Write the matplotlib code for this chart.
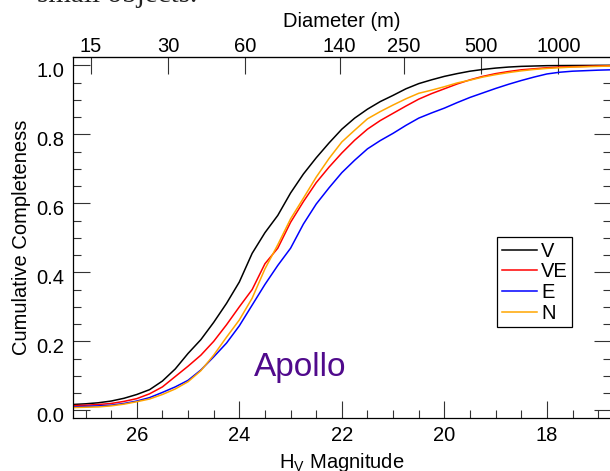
import numpy as np
import matplotlib
matplotlib.use('Agg')
import matplotlib.pyplot as plt
from matplotlib.transforms import ScaledTranslation

# ---- data ----
h_mag = [27.25, 27.0, 26.75, 26.5, 26.25, 26.0, 25.75, 25.5, 25.25, 25.0,
         24.75, 24.5, 24.25, 24.0, 23.75, 23.5, 23.25, 23.0, 22.75, 22.5,
         22.25, 22.0, 21.75, 21.5, 21.25, 21.0, 20.75, 20.5, 20.25, 20.0,
         19.75, 19.5, 19.25, 19.0, 18.75, 18.5, 18.25, 18.0, 17.75, 17.5,
         17.0, 16.75]
comp_V = [.017, .019, .022, .027, .035, .046, .060, .085, .120, .165,
          .205, .255, .310, .372, .455, .515, .565, .630, .685, .732,
          .775, .815, .847, .873, .895, .913, .932, .947, .958, .968,
          .976, .983, .988, .992, .995, .997, .998, .999, .9993, .9995,
          .9998, 1.0]
comp_VE = [.0136, .015, .017, .020, .026, .034, .048, .068, .098, .128,
           .160, .200, .248, .300, .350, .425, .470, .545, .605, .660,
           .705, .746, .783, .815, .840, .861, .882, .902, .918, .932,
           .946, .958, .968, .976, .982, .987, .990, .993, .995, .996,
           .998, .999]
comp_E = [.010, .0115, .013, .015, .020, .027, .037, .052, .068, .087,
          .117, .155, .195, .245, .305, .365, .420, .470, .540, .598,
          .645, .689, .725, .758, .782, .803, .826, .847, .862, .876,
          .892, .907, .920, .933, .945, .956, .966, .975, .980, .983,
          .986, .987]
comp_N = [.008, .009, .010, .013, .018, .025, .033, .046, .062, .083,
          .115, .160, .212, .262, .325, .410, .480, .555, .615, .676,
          .730, .778, .812, .845, .866, .885, .903, .919, .928, .938,
          .949, .957, .966, .973, .979, .984, .988, .991, .993, .995,
          .997, .998]
series_labels = ['V', 'VE', 'E', 'N']
series_colors = ['black', '#ff0000', '#0000ff', '#ffa500']
diam_ticks = [15, 30, 60, 140, 250, 500, 1000]
x_major = [26, 24, 22, 20, 18]
y_major = [0.0, 0.2, 0.4, 0.6, 0.8, 1.0]
ALBEDO = 0.137

plt.rcParams['font.family'] = ['Liberation Sans', 'DejaVu Sans']
FS = 14.5

def h2d(h):
    h = np.asarray(h, dtype=float)
    return 1329e3 / np.sqrt(ALBEDO) * 10 ** (-h / 5.0)

def d2h(d):
    d = np.asarray(d, dtype=float)
    d = np.where(d <= 0, 1e-9, d)
    return -5.0 * np.log10(d * np.sqrt(ALBEDO) / 1329e3)

fig = plt.figure(figsize=(6.10, 4.71), dpi=100)
ax = fig.add_axes([72.7 / 610, 1 - 418.3 / 471, 538.3 / 610, 361.6 / 471])

for vals, lab, col in zip([comp_V, comp_VE, comp_E, comp_N], series_labels, series_colors):
    ax.plot(h_mag, vals, color=col, lw=1.1, label=lab)

ax.set_xlim(27.25, 16.75)
ax.set_ylim(-0.023, 1.025)
ax.set_xticks(x_major)
ax.set_xticks(np.arange(17.0, 27.5, 0.5), minor=True)
ax.set_yticks(y_major)
ax.set_yticks(np.arange(0, 1.001, 0.05), minor=True)
ax.set_xticklabels([str(v) for v in x_major])
ax.set_yticklabels(['%.1f' % v for v in y_major])
ax.tick_params(which='both', direction='in', top=False, right=True,
               width=0.8, color='#333333', labelsize=FS)
ax.tick_params(which='major', length=12.2)
ax.tick_params(which='minor', length=6.1)
ax.tick_params(axis='x', which='major', pad=5.2)
ax.tick_params(axis='y', which='major', pad=6.0)
for lbl in ax.get_yticklabels():
    lbl.set_transform(lbl.get_transform() + ScaledTranslation(0, -4 / 100, fig.dpi_scale_trans))
for sp in ax.spines.values():
    sp.set_linewidth(0.9)

ax.set_xlabel(r'H$_{\mathregular{V}}$ Magnitude', fontsize=FS, labelpad=4.7)
ax.set_ylabel('Cumulative Completeness', fontsize=FS, labelpad=3.6)

sec = ax.secondary_xaxis('top', functions=(h2d, d2h))
sec.set_xticks(diam_ticks)
sec.set_xticklabels([str(d) for d in diam_ticks])
sec.xaxis.set_minor_locator(matplotlib.ticker.NullLocator())
sec.tick_params(which='major', direction='in', length=12.2, width=0.8,
                color='#333333', labelsize=FS, pad=0.5)
sec.set_xlabel('Diameter (m)', fontsize=FS, labelpad=7.0)

ax.text(23.71, 0.099, 'Apollo', color='#500a8c', fontsize=24,
        ha='left', va='baseline')

leg = ax.legend(loc='upper left', bbox_to_anchor=(497.3 / 610, 1 - 237.3 / 471),
                bbox_transform=fig.transFigure, borderaxespad=0,
                fontsize=FS, handlelength=1.74, handletextpad=0.21,
                labelspacing=0.08, borderpad=0.22, fancybox=False,
                framealpha=1, edgecolor='black')
leg.get_frame().set_linewidth(0.9)

fig.text(37 / 610, 1 - 2.5 / 471, 'small objects.', family=['Liberation Serif', 'DejaVu Serif'],
         fontsize=21, ha='left', va='baseline', color='#222222')

fig.savefig('out.png', dpi=100)
